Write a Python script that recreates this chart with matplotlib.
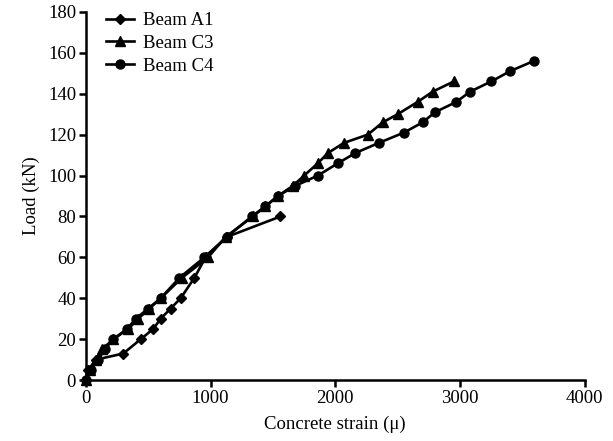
import matplotlib
matplotlib.use("Agg")
import matplotlib.pyplot as plt

plt.rcParams['font.family'] = ['Liberation Serif', 'DejaVu Serif']

# Beam A1 (diamonds)
a1_strain = [0, 20, 80, 300, 440, 540, 600, 680, 760, 870, 960, 1130, 1560]
a1_load = [0, 5, 10, 13, 20, 25, 30, 35, 40, 50, 60, 70, 80]

# Beam C3 (triangles)
c3_strain = [0, 30, 80, 130, 220, 340, 420, 510, 600, 770, 980, 1120, 1340, 1440,
             1540, 1660, 1750, 1860, 1940, 2070, 2260, 2380, 2500, 2660, 2780, 2950]
c3_load = [0, 5, 10, 15, 20, 25, 30, 35, 40, 50, 60, 70, 80, 85,
           90, 95, 100, 106, 111, 116, 120, 126, 130, 136, 141, 146]

# Beam C4 (circles)
c4_strain = [0, 40, 100, 150, 220, 330, 400, 500, 600, 750, 950, 1130, 1330, 1440,
             1540, 1680, 1860, 2020, 2160, 2350, 2550, 2700, 2800, 2970, 3080, 3250,
             3400, 3590]
c4_load = [0, 5, 10, 15, 20, 25, 30, 35, 40, 50, 60, 70, 80, 85,
           90, 95, 100, 106, 111, 116, 121, 126, 131, 136, 141, 146,
           151, 156]

fig = plt.figure(figsize=(6.13, 4.41), dpi=100)
ax = fig.add_axes([0.140, 0.138, 0.814, 0.835])

ax.plot(a1_strain, a1_load, color='black', lw=1.9, marker='D', ms=5.5, label='Beam A1', clip_on=False)
ax.plot(c3_strain, c3_load, color='black', lw=1.9, marker='^', ms=7.5, label='Beam C3', clip_on=False)
ax.plot(c4_strain, c4_load, color='black', lw=1.9, marker='o', ms=6.5, label='Beam C4', clip_on=False)

ax.set_xlim(0, 4000)
ax.set_ylim(0, 180)
ax.set_xticks(range(0, 4001, 1000))
ax.set_yticks(range(0, 181, 20))
ax.spines['top'].set_visible(False)
ax.spines['right'].set_visible(False)
ax.spines['left'].set_linewidth(1.8)
ax.spines['bottom'].set_linewidth(1.8)
ax.tick_params(direction='out', length=5, width=1.8, labelsize=13.5, pad=2)

ax.set_xlabel('Concrete strain (\u03bc)', fontsize=13.5, labelpad=6)
ax.set_ylabel('Load (kN)', fontsize=13.5, labelpad=6)

ax.legend(loc='upper left', frameon=False, fontsize=13.5, handlelength=1.5,
          handletextpad=0.5, borderaxespad=0.0, labelspacing=0.3,
          bbox_to_anchor=(0.025, 1.02))

fig.savefig('out.png', dpi=100)
